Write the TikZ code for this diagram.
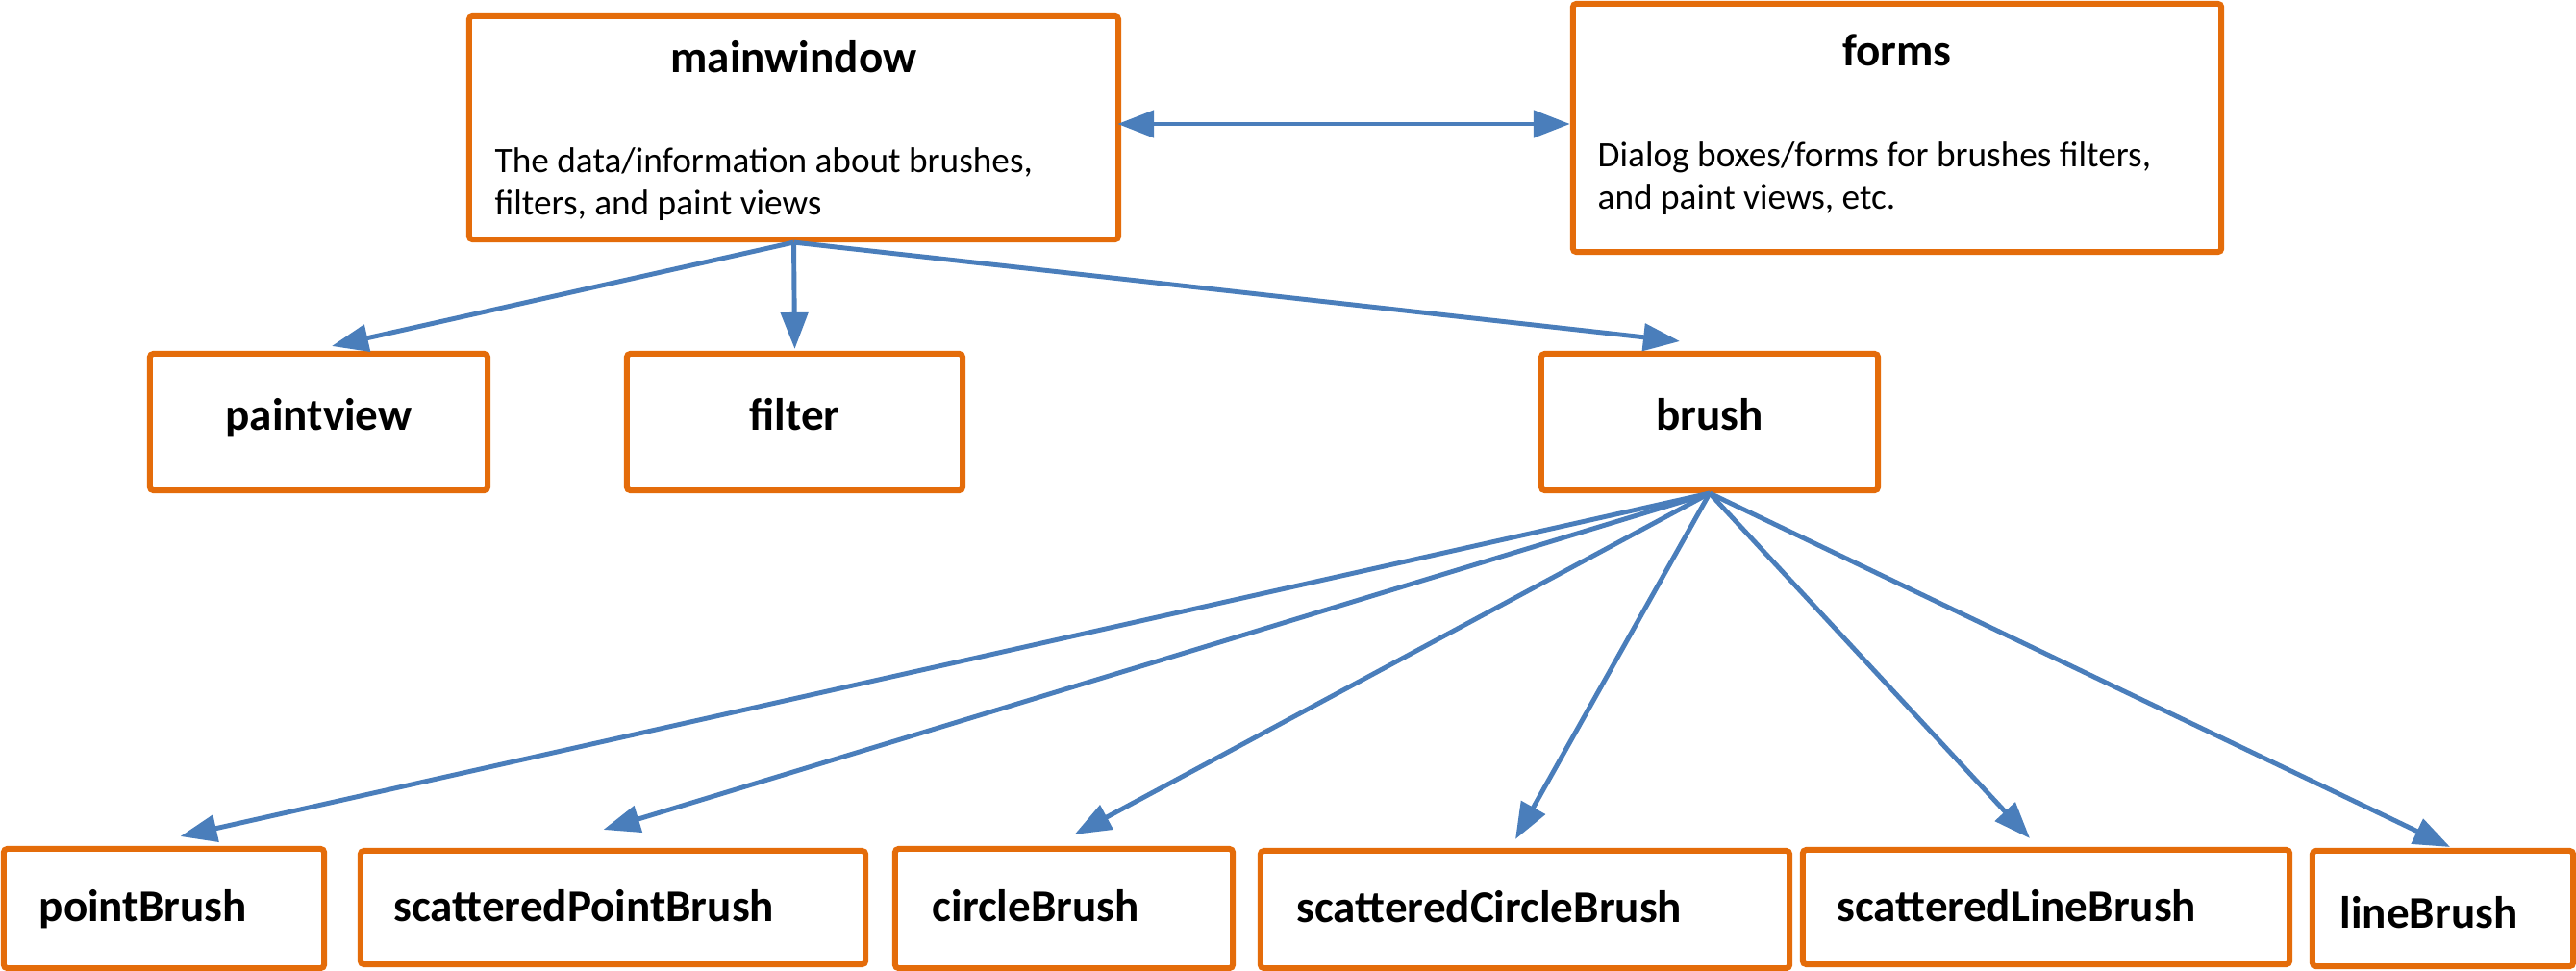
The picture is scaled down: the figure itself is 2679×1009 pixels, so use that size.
\documentclass[tikz,border=0pt]{standalone}
\usepackage{fontspec}
\setmainfont{Carlito}
\usetikzlibrary{arrows.meta}
\definecolor{boxorange}{HTML}{E46C0A}
\definecolor{arrblue}{HTML}{4A7EBB}
\tikzset{
  box/.style={draw=boxorange, line width=1.7pt, rounded corners=1pt, fill=white, inner sep=0pt},
  ttl/.style={font=\bfseries\fontsize{13.4}{16}\selectfont, inner sep=0pt, anchor=base},
  lbl/.style={font=\bfseries\fontsize{13.4}{16}\selectfont, inner sep=0pt, anchor=base west},
  body/.style={font=\fontsize{10.6}{12.4}\selectfont, inner sep=0pt, anchor=base west, align=left},
  arr/.style={draw=arrblue, line width=1.4pt, -{Triangle[length=0.38cm, width=0.28cm]}},
  biarr/.style={draw=arrblue, line width=1.4pt, {Triangle[length=0.38cm, width=0.28cm]}-{Triangle[length=0.38cm, width=0.28cm]}}
}
\begin{document}
\begin{tikzpicture}[x=0.01cm, y=-0.01cm]
\useasboundingbox (0,0) rectangle (2679,1009);
% top row
\node[box, minimum width=6.75cm, minimum height=2.32cm] (mw) at (825.5,133) {};
\node[box, minimum width=6.74cm, minimum height=2.58cm] (fo) at (1973,133) {};
\node[ttl] (mwt) at (825.5,75) {mainwindow};
\node[body] (mwb) at (514,223) {The data/information about brushes,\\filters, and paint views};
\node[ttl] (fot) at (1973,68) {forms};
\node[body] (fob) at (1661,217) {Dialog boxes/forms for brushes filters,\\and paint views, etc.};
% middle row
\node[box, minimum width=3.51cm, minimum height=1.42cm] (pv) at (331.5,439) {};
\node[box, minimum width=3.49cm, minimum height=1.42cm] (fi) at (826.5,439) {};
\node[box, minimum width=3.50cm, minimum height=1.42cm] (br) at (1778,439) {};
\node[ttl] (pvt) at (331.5,447) {paintview};
\node[ttl] (fit) at (826.5,447) {filter};
\node[ttl] (brt) at (1778,447) {brush};
% bottom row
\node[box, minimum width=3.33cm, minimum height=1.24cm] (pb) at (170.5,945) {};
\node[box, minimum width=5.25cm, minimum height=1.18cm] (spb) at (637.5,944) {};
\node[box, minimum width=3.51cm, minimum height=1.24cm] (cb) at (1106.5,945) {};
\node[box, minimum width=5.50cm, minimum height=1.22cm] (scb) at (1586,946) {};
\node[box, minimum width=5.06cm, minimum height=1.19cm] (slb) at (2128,943.5) {};
\node[box, minimum width=2.71cm, minimum height=1.20cm] (lb) at (2540.5,945) {};
\node[lbl] (pbt) at (40,958) {pointBrush};
\node[lbl] (spbt) at (409,958) {scatteredPointBrush};
\node[lbl] (cbt) at (969,958) {circleBrush};
\node[lbl] (scbt) at (1348,959) {scatteredCircleBrush};
\node[lbl] (slbt) at (1910,958) {scatteredLineBrush};
\node[lbl] (lbt) at (2433,965) {lineBrush};
% connectors
\draw[biarr] ([shift={(-4,-4)}]mw.east) -- ([shift={(0,-4)}]fo.west);
\draw[arr] (mw.south) -- ([shift={(13.5,-5)}]pv.north);
\draw[arr] (mw.south) -- ([shift={(0,-2)}]fi.north);
\draw[arr] (mw.south) -- ([shift={(-31,-10)}]br.north);
\draw[arr] (br.south) -- ([shift={(17,-10)}]pb.north);
\draw[arr] (br.south) -- ([shift={(-10,-19)}]spb.north);
\draw[arr] (br.south) -- ([shift={(11,-12)}]cb.north);
\draw[arr] (br.south) -- ([shift={(-10,-9)}]scb.north);
\draw[arr] (br.south) -- ([shift={(-17,-9)}]slb.north);
\draw[arr] (br.south) -- ([shift={(7.5,-1)}]lb.north);
\end{tikzpicture}
\end{document}
